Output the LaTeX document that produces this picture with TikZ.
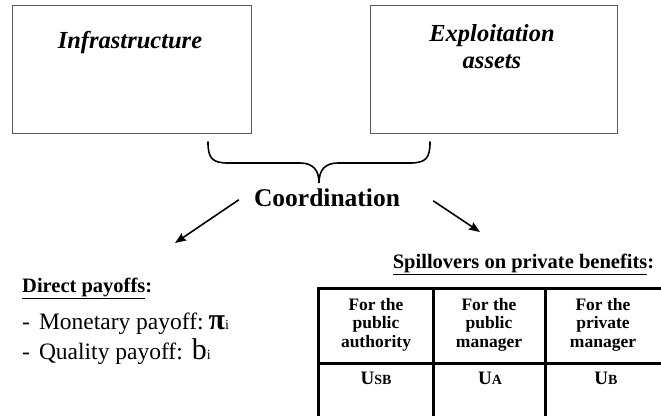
\documentclass[tikz,border=0pt]{standalone}
\usepackage{fontspec}
\setmainfont{Liberation Serif}
\usetikzlibrary{arrows.meta,positioning}

\newcommand{\pxfont}[1]{\fontsize{#1}{#1}\selectfont}

\begin{document}
\begin{tikzpicture}[x=1pt,y=-1pt]
\tikzset{
  assetbox/.style={draw=black!65,line width=0.8pt,minimum height=128pt,inner sep=0pt,outer sep=0pt},
  boxtext/.style={anchor=base,align=center,inner sep=0pt,font={\fontsize{24.5}{27}\selectfont\bfseries\itshape}},
  brace/.style={line width=1.6pt,line cap=round},
  directed/.style={-{Stealth[length=11pt,width=8.5pt,inset=1.5pt]},line width=1.6pt},
  headtext/.style={anchor=base,inner sep=0pt,font={\pxfont{25.5}\bfseries}},
  listhead/.style={anchor=base west,inner sep=0pt,font={\pxfont{20.5}\bfseries}},
  listitem/.style={anchor=base west,inner sep=0pt,font={\pxfont{23.5}}},
  tabcell/.style={draw,line width=3pt,minimum height=75pt,inner sep=0pt,outer sep=0pt},
  celltext/.style={anchor=base,align=center,inner sep=0pt,font={\fontsize{17.5}{18.5}\selectfont\bfseries}}
}
\useasboundingbox (0,0) rectangle (661,415);
\clip (0,0) rectangle (661,415);

% the two kinds of assets
\node[assetbox,minimum width=239pt] (n_infra) at (131.5,69) {};
\node[assetbox,minimum width=247pt] (n_exploit) at (493.5,69) {};
\node[boxtext] (n_infra_txt) at (130,48) {Infrastructure};
\node[boxtext] (n_exploit_txt) at (492,68) {Exploitation\\assets};

% brace joining them
\draw[brace] (208,142) .. controls (208,158) and (212,163) .. (228,163) -- (300,163)
  .. controls (313,163) and (319,170) .. (319,183)
  .. controls (319,170) and (325,163) .. (338,163) -- (410,163)
  .. controls (426,163) and (430,158) .. (430,142);

\node[headtext] (n_coord) at (327,206) {Coordination};
\coordinate (c_direct) at (175,243);
\coordinate (c_spill) at (480,232);
\draw[directed] ([shift={(-15,2.5)}]n_coord.west) -- (c_direct);
\draw[directed] ([shift={(33,3.5)}]n_coord.east) -- (c_spill);

% direct payoffs
\node[listhead] (n_direct) at (22,292) {\underline{Direct payoffs}:};
\node[listitem] (n_money) at (22,329) {-\hspace{9pt}Monetary payoff:\hspace{5pt}{\pxfont{30}\bfseries π}{\pxfont{14}i}};
\node[listitem] (n_quality) at (22,359) {-\hspace{9pt}Quality payoff:\hspace{9pt}{\pxfont{30}b}{\pxfont{14}i}};

% spillovers table
\node[listhead,anchor=base] (n_spill) at (523.5,268) {\underline{Spillovers on private benefits}:};
\node[tabcell,minimum width=115pt] (n_h_1) at (375.5,325.5) {};
\node[tabcell,minimum width=112pt] (n_h_2) at (489,325.5) {};
\node[tabcell,minimum width=119pt] (n_h_3) at (604.5,325.5) {};
\node[tabcell,minimum width=115pt,minimum height=60pt,below=0pt of n_h_1] (n_b_1) {};
\node[tabcell,minimum width=112pt,minimum height=60pt,below=0pt of n_h_2] (n_b_2) {};
\node[tabcell,minimum width=119pt,minimum height=60pt,below=0pt of n_h_3] (n_b_3) {};
\node[celltext] (n_t_1) at (376,347) {For the\\public\\authority};
\node[celltext] (n_t_2) at (489,347) {For the\\public\\manager};
\node[celltext] (n_t_3) at (603,347) {For the\\private\\manager};
\node[celltext] (n_v_1) at (376,384) {{\pxfont{19}U}{\pxfont{14}SB}};
\node[celltext] (n_v_2) at (490,384) {{\pxfont{19}U}{\pxfont{14}A}};
\node[celltext] (n_v_3) at (606,384) {{\pxfont{19}U}{\pxfont{14}B}};
\end{tikzpicture}
\end{document}
